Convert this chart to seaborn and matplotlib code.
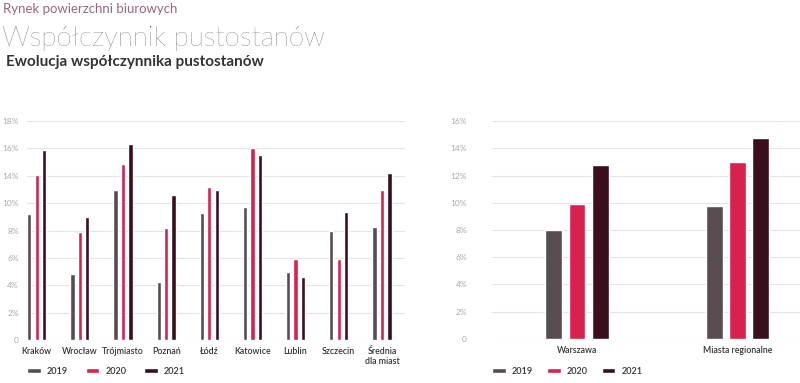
import numpy as np
import pandas as pd
import matplotlib
matplotlib.use("Agg")
import matplotlib.pyplot as plt
import seaborn as sns

# dane (w %)
years = ["2019", "2020", "2021"]
cities = ["Kraków", "Wrocław", "Trójmiasto", "Poznań", "Łódź",
          "Katowice", "Lublin", "Szczecin", "Średnia\ndla miast"]
v2019 = [10.35, 5.45, 12.3, 4.75, 10.45, 10.9, 5.6, 9.0, 9.3]
v2020 = [13.6, 8.9, 14.5, 9.2, 12.6, 15.8, 6.7, 6.7, 12.3]
v2021 = [15.6, 10.1, 16.1, 11.9, 12.3, 15.2, 5.2, 10.5, 13.7]
left_ticks = ["0", "2%", "4%", "6%", "8%", "10%", "14%", "16%", "18%"]

markets = ["Warszawa", "Miasta regionalne"]
m2019 = [7.98, 9.79]
m2020 = [9.93, 12.97]
m2021 = [12.8, 14.73]
right_ticks = ["0", "2%", "4%", "6%", "8%", "10%", "12%", "14%", "16%"]

colors = ["#574c4f", "#d9214e", "#3b0e1d"]

df_left = pd.DataFrame({
    "miasto": cities * 3,
    "rok": np.repeat(years, len(cities)),
    "wartosc": v2019 + v2020 + v2021,
})
df_right = pd.DataFrame({
    "rynek": markets * 3,
    "rok": np.repeat(years, len(markets)),
    "wartosc": m2019 + m2020 + m2021,
})

sns.set_style("white")
plt.rcParams["font.family"] = ["Lato", "DejaVu Sans"]

fig = plt.figure(figsize=(8, 3.83), dpi=100)

fig.text(0.004, 0.966, "Rynek powierzchni biurowych", fontsize=9.5,
         color="#9a6482", va="baseline")
fig.text(0.002, 0.88, "Współczynnik pustostanów", fontsize=20,
         color="#484848", va="baseline", fontweight="light")
fig.text(0.008, 0.828, "Ewolucja współczynnika pustostanów", fontsize=11,
         color="#333333", va="baseline", fontweight="bold")

# lewy wykres
ax1 = fig.add_axes([0.034, 0.112, 0.472, 0.572])
sns.barplot(data=df_left, x="miasto", y="wartosc", hue="rok", palette=colors,
            width=0.52, gap=0.42, saturation=1, ax=ax1, legend=True)
ax1.set_ylim(0, 18)
ax1.set_yticks(np.linspace(0, 18, 9))
ax1.set_yticklabels(left_ticks)
ax1.set_xlim(-0.22, 8.53)

# prawy wykres
ax2 = fig.add_axes([0.615, 0.115, 0.385, 0.569])
sns.barplot(data=df_right, x="rynek", y="wartosc", hue="rok", palette=colors,
            width=0.435, gap=0.28, saturation=1, ax=ax2, legend=True)
ax2.set_ylim(0, 16)
ax2.set_yticks(np.linspace(0, 16, 9))
ax2.set_yticklabels(right_ticks)
ax2.set_xlim(-0.53, 1.39)

for ax, pad, lx, cs in [(ax1, 6, 0.034, 2.0), (ax2, 18, 0.615, 1.6)]:
    ax.set_xlabel("")
    ax.set_ylabel("")
    for s in ax.spines.values():
        s.set_visible(False)
    ax.grid(axis="y", color="#e4e4e4", linewidth=0.8)
    ax.set_axisbelow(True)
    ax.tick_params(axis="y", length=0, labelsize=6, labelcolor="#a8a8a8", pad=pad)
    ax.tick_params(axis="x", length=0, labelsize=6.3, labelcolor="#333333", pad=5)
    for t in ax.get_xticklabels():
        t.set_fontweight("semibold")
    h, l = ax.get_legend_handles_labels()
    leg = ax.legend(h, l, loc="center left", bbox_to_anchor=(lx, 0.03),
                    bbox_transform=fig.transFigure, ncol=3, frameon=False,
                    handlelength=1.5, handleheight=0.45, handletextpad=0.65,
                    columnspacing=cs, fontsize=6.5, labelcolor="#333333",
                    borderpad=0, borderaxespad=0)
    for t in leg.get_texts():
        t.set_fontweight("semibold")

fig.savefig("out.png", dpi=100, facecolor="white")
